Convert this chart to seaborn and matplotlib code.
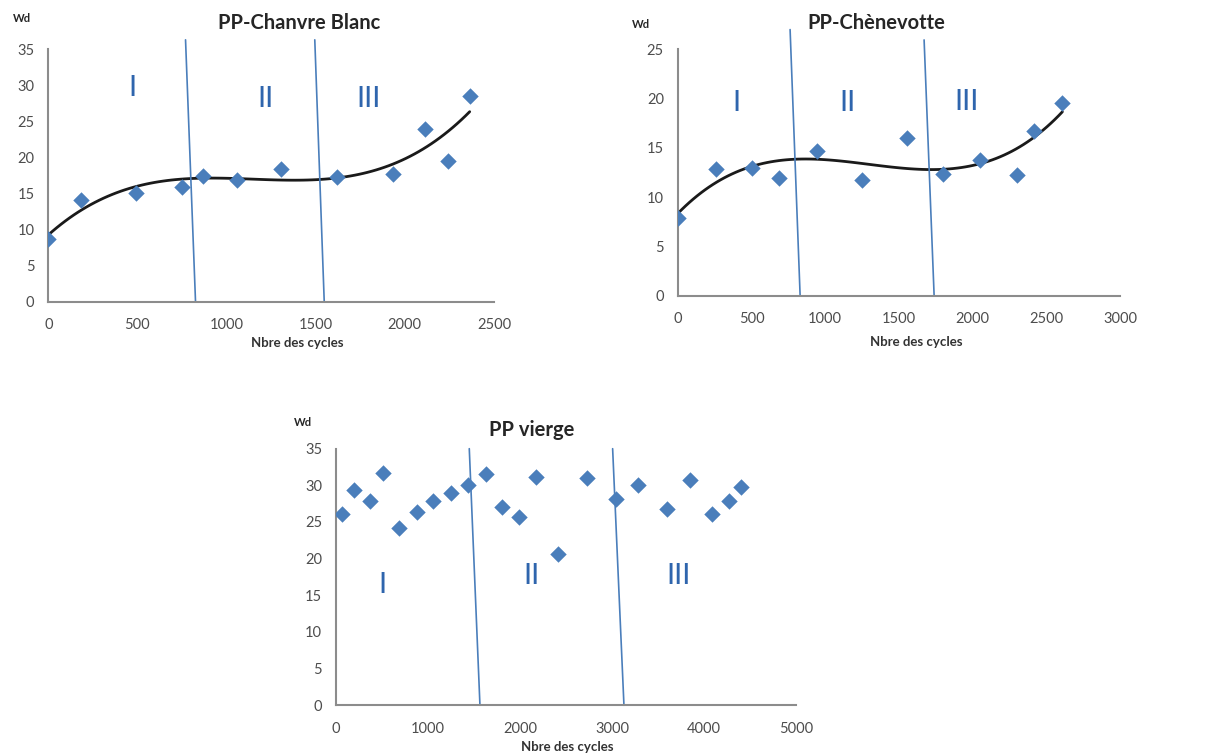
import matplotlib
matplotlib.use("Agg")
import matplotlib.pyplot as plt
import seaborn as sns
import pandas as pd

# Wd en fonction du nombre de cycles
cb_cycles = [0, 183, 493, 748, 869, 1058, 1305, 1619, 1931, 2114, 2243, 2364]
cb_wd = [8.7, 14.1, 15.1, 15.95, 17.4, 16.9, 18.35, 17.3, 17.7, 23.9, 19.5, 28.5]

ch_cycles = [0, 258, 506, 690, 943, 1250, 1558, 1802, 2051, 2299, 2419, 2609]
ch_wd = [7.9, 12.9, 13.0, 11.9, 14.7, 11.75, 16.0, 12.35, 13.75, 12.2, 16.75, 19.5]

pv_cycles = [69, 199, 373, 507, 688, 877, 1058, 1250, 1431, 1627, 1801, 1986,
             2174, 2417, 2728, 3047, 3286, 3594, 3844, 4091, 4275, 4399]
pv_wd = [26.1, 29.3, 27.9, 31.7, 24.2, 26.3, 27.9, 28.9, 30.1, 31.6, 27.0, 25.7,
         31.1, 20.6, 31.05, 28.1, 30.0, 26.8, 30.7, 26.1, 27.8, 29.8]

# séparations des zones I / II / III : (x en haut, y en haut, x en bas)
cb_sep = [(770, 36.3, 826), (1495, 36.3, 1548)]
ch_sep = [(762, 27.0, 830), (1671, 25.95, 1739)]
pv_sep = [(1449, 35.0, 1565), (3007, 35.0, 3130)]

zones = ['I', 'II', 'III']
cb_zone_pos = [(473, 29.6), (1219, 28.1), (1794, 28.1)]
ch_zone_pos = [(400, 19.5), (1153, 19.5), (1960, 19.7)]
pv_zone_pos = [(507, 16.4), (2120, 17.6), (3728, 17.6)]

sns.set_style('white')
plt.rcParams['font.family'] = ['Lato', 'DejaVu Sans']

BLUE = '#4a7ebb'
GREY = '#8c8c8c'


def draw_panel(ax, cycles, wd, xmax, xstep, ymax, ystep, sep, zone_pos, trend):
    df = pd.DataFrame({'cycles': cycles, 'wd': wd})
    if trend:
        # courbe de tendance polynomiale d'ordre 3
        sns.regplot(data=df, x='cycles', y='wd', order=3, ci=None, scatter=False,
                    truncate=True, ax=ax, line_kws={'color': '#1a1a1a', 'lw': 2.0})
    sns.scatterplot(data=df, x='cycles', y='wd', marker='D', s=70, color=BLUE,
                    edgecolor=BLUE, linewidth=0, ax=ax, zorder=3)

    for xt, yt, xb in sep:
        ax.plot([xt, xb], [yt, 0], color=BLUE, lw=1.2, clip_on=False, zorder=2)
    for lab, (zx, zy) in zip(zones, zone_pos):
        ax.text(zx, zy, lab, color='#2f65ad', fontsize=21, ha='center', va='center',
                family=['Lato', 'DejaVu Sans'])

    ax.set_xlim(0, xmax)
    ax.set_ylim(0, ymax)
    ax.set_xticks(range(0, xmax + 1, xstep))
    ax.set_yticks(range(0, ymax + 1, ystep))
    ax.set_xlabel('')
    ax.set_ylabel('')
    sns.despine(ax=ax)
    for side in ['left', 'bottom']:
        ax.spines[side].set_color(GREY)
        ax.spines[side].set_linewidth(1.5)
    ax.tick_params(axis='both', direction='out', length=4, width=1.2, color=GREY,
                   labelsize=10.5, labelcolor='#4d4d4d', pad=8)
    ax.tick_params(axis='y', pad=6)


fig = plt.figure(figsize=(12.19, 7.56), dpi=100)

ax1 = fig.add_axes([0.0396, 0.601, 0.3656, 0.3339])
draw_panel(ax1, cb_cycles, cb_wd, 2500, 500, 35, 5, cb_sep, cb_zone_pos, True)
ax2 = fig.add_axes([0.556, 0.6089, 0.3628, 0.3259])
draw_panel(ax2, ch_cycles, ch_wd, 3000, 500, 25, 5, ch_sep, ch_zone_pos, True)
ax3 = fig.add_axes([0.2756, 0.0671, 0.3774, 0.3394])
draw_panel(ax3, pv_cycles, pv_wd, 5000, 1000, 35, 5, pv_sep, pv_zone_pos, False)

# titres, "Wd" et "Nbre des cycles" placés en coordonnées pixel de la figure
W, H = 1219, 756
labels = [
    ('PP-Chanvre Blanc', 299, 23),
    ('PP-Chènevotte', 876, 23),
    ('PP vierge', 532, 430),
]
for txt, px, py in labels:
    fig.text(px / W, 1 - py / H, txt, ha='center', va='center', fontsize=14.5,
             fontweight='bold', color='#262626')
for px, py in [(22, 18), (641, 25), (303, 423)]:
    fig.text(px / W, 1 - py / H, 'Wd', ha='center', va='center', fontsize=8,
             fontweight='bold', color='#262626')
for px, py in [(297, 343), (916, 342), (567, 747)]:
    fig.text(px / W, 1 - py / H, 'Nbre des cycles', ha='center', va='center', fontsize=9.5,
             fontweight='bold', color='#333333')

fig.savefig('out.png', dpi=100)
